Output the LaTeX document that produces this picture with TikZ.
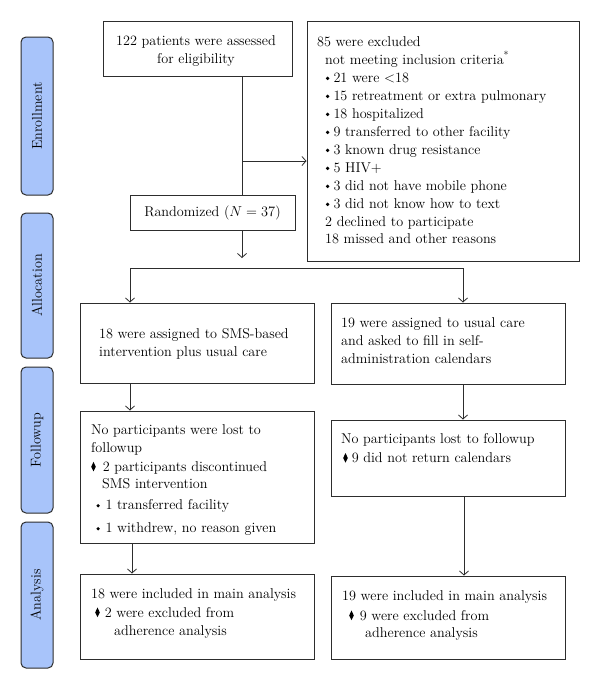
\documentclass[tikz,border=0pt]{standalone}
\usetikzlibrary{arrows.meta}
\definecolor{lab}{RGB}{168,196,250}
\definecolor{ln}{RGB}{45,45,45}
\newcommand\dmd{\tikz[x=1pt,y=1pt,baseline=0pt]\fill[black] (2.3,0)--(4.6,4.6)--(2.3,9.6)--(0,4.6)--cycle;}
\newcommand\bdot{\tikz[x=1pt,y=1pt,baseline=0pt]{\path (0,0) -- (3.8,0);\fill[black] (1.9,3.7) circle (1.8pt);}}
\newcommand\bulA{\hspace*{8.5pt}\bdot\hspace*{4pt}}
\newcommand\bulB{\hspace*{5pt}\bdot\hspace*{5.5pt}}
\begin{document}
\begin{tikzpicture}[x=1pt,y=-1pt,
  box/.style={draw=ln,line width=1pt,inner sep=0pt},
  side/.style={draw=ln,line width=1pt,fill=lab,rounded corners=5pt,rotate=90,minimum height=32pt,inner sep=0pt,font=\fontsize{14.2}{18}\selectfont},
  txt/.style={anchor=north west,inner sep=0pt,align=left,font=\fontsize{14.2}{18}\selectfont,execute at begin node=\strut},
  arr/.style={draw=ln,line width=0.8pt,-{Straight Barb[length=4pt,width=9pt]}},
  con/.style={draw=ln,line width=0.8pt}]
\useasboundingbox (0,0) rectangle (600,689);
\fill[white] (0,0) rectangle (600,689);
% side labels
\node[side,minimum width=158pt] (enr) at (37,116) {Enrollment};
\node[side,minimum width=145pt] (alo) at (37,285.5) {Allocation};
\node[side,minimum width=146pt] (fol) at (37,440) {Followup};
\node[side,minimum width=146pt] (ana) at (37,595) {Analysis};
% boxes
\node[box,minimum width=189pt,minimum height=55pt] (assess) at (197.5,48.5) {};
\node[box,minimum width=272pt,minimum height=240pt] (excl) at (443,141) {};
\node[box,minimum width=165pt,minimum height=35pt,font=\fontsize{14.2}{18}\selectfont] (rand) at (212.5,212.5) {Randomized ($N=37$)};
\node[box,minimum width=234pt,minimum height=80pt] (sms) at (197,343) {};
\node[box,minimum width=234pt,minimum height=81pt] (usual) at (448,343.5) {};
\node[box,minimum width=234pt,minimum height=132pt] (fupL) at (197,477) {};
\node[box,minimum width=234pt,minimum height=76pt] (fupR) at (448,458) {};
\node[box,minimum width=234pt,minimum height=85pt] (anaL) at (197,616.5) {};
\node[box,minimum width=234pt,minimum height=83pt] (anaR) at (448,617.5) {};
% texts
\node[txt,anchor=north,align=center] (tAssess) at (196,35) {122 patients were assessed\\for eligibility};
\node[txt] (tExcl) at (317,36) {85 were excluded\\
\hspace*{8pt}not meeting inclusion criteria\textsuperscript{*}\\
\bulA 21 were $<$18\\
\bulA 15 retreatment or extra pulmonary\\
\bulA 18 hospitalized\\
\bulA 9 transferred to other facility\\
\bulA 3 known drug resistance\\
\bulA 5 HIV+\\
\bulA 3 did not have mobile phone\\
\bulA 3 did not know how to text\\
\hspace*{8pt}2 declined to participate\\[-1pt]
\hspace*{8pt}18 missed and other reasons};
\node[txt] (tSms) at (99,328.4) {18 were assigned to SMS-based\\intervention plus usual care};
\node[txt] (tUsual) at (341,317.4) {19 were assigned to usual care\\and asked to fill in self-\\administration calendars};
\node[txt] (tFupL) at (91,424.4) {No participants were lost to\\
followup\\[1pt]
\dmd\hspace*{7pt}2 participants discontinued\\[-1pt]
\hspace*{11pt}SMS intervention\\[3pt]
\bulB 1 transferred facility\\[5pt]
\bulB 1 withdrew, no reason given};
\node[txt] (tFupR) at (341,433.4) {No participants lost to followup\\[1pt]
\hspace*{2pt}\dmd\hspace*{4pt}9 did not return calendars};
\node[txt] (tAnaL) at (91,588) {18 were included in main analysis\\[1pt]
\hspace*{4pt}\dmd\hspace*{5pt}2 were excluded from\\
\hspace*{23pt}adherence analysis};
\node[txt] (tAnaR) at (342,590) {19 were included in main analysis\\[2pt]
\hspace*{7pt}\dmd\hspace*{6pt}9 were excluded from\\[-1pt]
\hspace*{23pt}adherence analysis};
% connectors
\coordinate (tk) at (242,161);
\coordinate (rb) at (242,258);
\coordinate (sl) at (130,268);
\coordinate (sr) at (463,268);
\draw[con] (tk |- assess.south) -- (tk |- rand.north);
\draw[arr] (tk) -- (tk -| excl.west);
\draw[arr] (tk |- rand.south) -- (rb);
\draw[con] (sl) -- (sr);
\draw[arr] (sl) -- (sl |- sms.north);
\draw[arr] (sr) -- (sr |- usual.north);
\draw[arr] (sl |- sms.south) -- (sl |- fupL.north);
\draw[arr] (sr |- usual.south) -- (sr |- fupR.north);
\draw[arr] ([xshift=2pt]sl |- fupL.south) -- ([xshift=2pt]sl |- anaL.north);
\draw[arr] ([xshift=1pt]sr |- fupR.south) -- ([xshift=1pt]sr |- anaR.north);
\end{tikzpicture}
\end{document}
